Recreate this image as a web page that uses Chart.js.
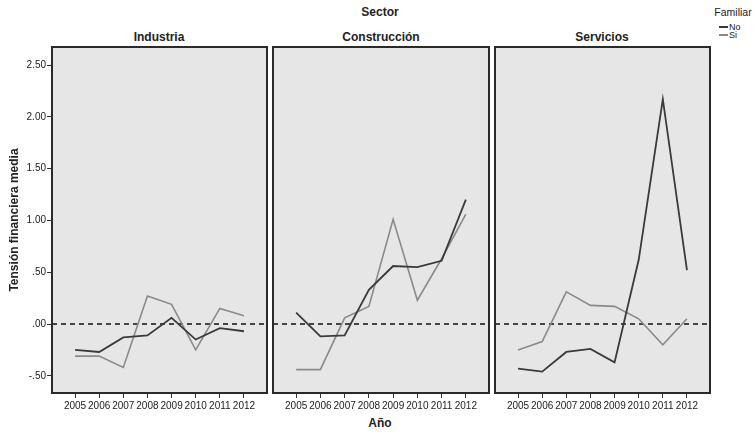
<!DOCTYPE html>
<html>
<head>
<meta charset="utf-8">
<script src="https://cdn.jsdelivr.net/npm/chart.js@4/dist/chart.umd.min.js"></script>
<style>
  html, body { margin: 0; padding: 0; background: #fff; }
  #wrap { position: relative; width: 756px; height: 432px; overflow: hidden;
          font-family: "Liberation Sans", Arial, sans-serif; color: #222; }
  canvas { position: absolute; top: 0; }
  .lbl { position: absolute; white-space: nowrap; transform: translate(-50%, -50%); }
  .b12 { font-weight: bold; font-size: 12px; }
  .leg { position: absolute; font-size: 9px; line-height: 8px; height: 8px; white-space: nowrap; }
  .leg span.line { position: absolute; left: 0; top: 3px; width: 9px; height: 0; }
  .leg span.txt { position: absolute; left: 10px; top: 0; }
</style>
</head>
<body>
<div id="wrap">
  <div class="lbl b12" style="left:380px; top:12px;">Sector</div>
  <div class="lbl b12" style="left:159px; top:37px;">Industria</div>
  <div class="lbl b12" style="left:381px; top:37px;">Construcción</div>
  <div class="lbl b12" style="left:602px; top:37px;">Servicios</div>
  <div class="lbl b12" style="left:380px; top:423px;">Año</div>
  <div class="lbl" style="left:733px; top:12px; font-size:10.5px;">Familiar</div>
  <div class="leg" style="left:719px; top:23px;"><span class="line" style="border-top:2px solid #3a3a3a;"></span><span class="txt">No</span></div>
  <div class="leg" style="left:719px; top:31px;"><span class="line" style="border-top:2px solid #8a8a8a;"></span><span class="txt">Si</span></div>
  <canvas id="c1"></canvas>
  <canvas id="c2"></canvas>
  <canvas id="c3"></canvas>
</div>
<script>
// Mean financial stress by year, family-owned (Si) vs. not (No), per sector
const years = [2005, 2006, 2007, 2008, 2009, 2010, 2011, 2012];
const sectors = ['Industria', 'Construcción', 'Servicios'];
const seriesNames = ['No', 'Si'];

const industriaNo     = [-0.25, -0.27, -0.13, -0.11, 0.06, -0.15, -0.04, -0.07];
const industriaSi     = [-0.31, -0.31, -0.42, 0.27, 0.19, -0.25, 0.15, 0.08];
const construccionNo  = [0.11, -0.12, -0.11, 0.33, 0.56, 0.55, 0.61, 1.20];
const construccionSi  = [-0.44, -0.44, 0.06, 0.17, 1.01, 0.23, 0.63, 1.06];
const serviciosNo     = [-0.43, -0.46, -0.27, -0.24, -0.37, 0.62, 2.17, 0.52];
const serviciosSi     = [-0.25, -0.17, 0.31, 0.18, 0.17, 0.05, -0.20, 0.05];

const yTicks = [-0.5, 0, 0.5, 1, 1.5, 2, 2.5];
const yMin = -0.666, yMax = 2.674;
const xMin = 2004.045, xMax = 2012.955;

const FONT = '"Liberation Sans", Arial, sans-serif';
const colors = { No: '#3a3a3a', Si: '#8a8a8a' };

// Panel background, dashed zero reference line and frame
const panelPlugin = {
  id: 'panel',
  beforeDraw(chart) {
    const a = chart.chartArea, ctx = chart.ctx;
    ctx.save();
    ctx.fillStyle = '#e6e6e6';
    ctx.fillRect(a.left, a.top, a.right - a.left, a.bottom - a.top);
    ctx.restore();
  },
  beforeDatasetsDraw(chart) {
    const a = chart.chartArea, ctx = chart.ctx;
    const y0 = chart.scales.y.getPixelForValue(0);
    ctx.save();
    ctx.strokeStyle = '#111';
    ctx.lineWidth = 1.5;
    ctx.setLineDash([5, 4]);
    ctx.beginPath();
    ctx.moveTo(a.left, y0);
    ctx.lineTo(a.right, y0);
    ctx.stroke();
    ctx.restore();
  },
  afterDraw(chart) {
    const a = chart.chartArea, ctx = chart.ctx;
    ctx.save();
    ctx.strokeStyle = '#2a2a2a';
    ctx.lineWidth = 2;
    ctx.strokeRect(a.left, a.top, a.right - a.left, a.bottom - a.top);
    ctx.restore();
  }
};

function fmtY(v) {
  const s = Math.abs(v).toFixed(2).replace(/^0/, '');
  return (v < 0 ? '-' : '') + s;
}

function makeChart(id, left, width, noData, siData, showY) {
  const cv = document.getElementById(id);
  cv.style.left = left + 'px';
  cv.width = width; cv.height = 432;
  cv.style.width = width + 'px'; cv.style.height = '432px';
  return new Chart(cv, {
    type: 'line',
    data: {
      datasets: [
        { label: seriesNames[0], data: years.map((y, i) => ({ x: y, y: noData[i] })),
          borderColor: colors.No, borderWidth: 1.8, pointRadius: 0, tension: 0 },
        { label: seriesNames[1], data: years.map((y, i) => ({ x: y, y: siData[i] })),
          borderColor: colors.Si, borderWidth: 1.6, pointRadius: 0, tension: 0 }
      ]
    },
    options: {
      responsive: false,
      animation: false,
      devicePixelRatio: 1,
      layout: { padding: { top: 47, bottom: 0, left: showY ? 0 : 1, right: 1 } },
      plugins: { legend: { display: false }, tooltip: { enabled: false } },
      scales: {
        x: {
          type: 'linear', min: xMin, max: xMax,
          afterFit(s) { s.height = 39; },
          afterBuildTicks(s) { s.ticks = years.map(v => ({ value: v })); },
          ticks: { includeBounds: false, padding: 2, color: '#222',
                   font: { family: FONT, size: 10 }, maxRotation: 0, autoSkip: false,
                   callback: v => String(v) },
          grid: { drawOnChartArea: false, tickLength: 5, color: '#333', lineWidth: 1 },
          border: { display: false }
        },
        y: {
          type: 'linear', min: yMin, max: yMax, display: showY,
          afterFit(s) { s.width = showY ? 52 : 0; },
          afterBuildTicks(s) { s.ticks = yTicks.map(v => ({ value: v })); },
          ticks: { includeBounds: false, padding: 1, color: '#222',
                   font: { family: FONT, size: 10 }, callback: v => fmtY(v) },
          grid: { drawOnChartArea: false, tickLength: 5, color: '#333', lineWidth: 1 },
          border: { display: false },
          title: { display: true, text: 'Tensión financiera media', color: '#222',
                   font: { family: FONT, size: 12, weight: 'bold' },
                   padding: { top: 7, bottom: 0 } }
        }
      }
    },
    plugins: [panelPlugin]
  });
}

makeChart('c1', 0, 268, industriaNo, industriaSi, true);
makeChart('c2', 272, 218, construccionNo, construccionSi, false);
makeChart('c3', 494, 217, serviciosNo, serviciosSi, false);
</script>
</body>
</html>
